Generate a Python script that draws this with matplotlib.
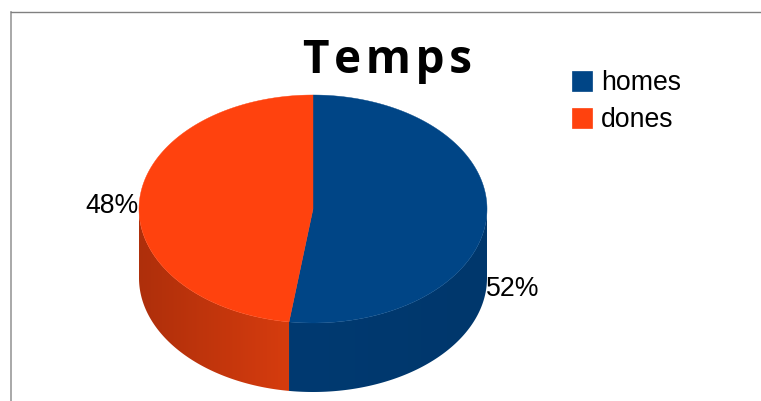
import numpy as np
import matplotlib
matplotlib.use("Agg")
from matplotlib import pyplot as plt
from matplotlib.patches import Patch, Polygon

labels = ["homes", "dones"]
values = [52.2, 47.8]
top_colours = ["#004586", "#ff420e"]
side_left = ["#003a71", "#ae2f0b"]
side_right = ["#00376c", "#d63c0e"]
title = "T\u200ae\u200am\u200ap\u200as"

# pie geometry in pixels
cx, cy = 313, 209
rx, ry = 174, 114
depth = 69


def rim(a, b, n=200):
    # a, b in degrees clockwise from 12 o'clock
    t = np.radians(np.linspace(a, b, n))
    return cx + rx * np.sin(t), cy - ry * np.cos(t)


fig = plt.figure(figsize=(7.61, 4.01), dpi=100)
ax = fig.add_axes([0, 0, 1, 1])
ax.axis("off")

# frame of the chart, cut by the image on the right and at the bottom
ax.plot([10.5, 10.5], [401, 11.5], color="#999999", lw=1.2)
ax.plot([10.5, 761], [11.5, 11.5], color="#808080", lw=1.0)

angles = np.cumsum([0] + values) / sum(values) * 360

# side wall, only the part facing the viewer (90 to 270 degrees)
for i in range(len(values)):
    a = max(angles[i], 90)
    b = min(angles[i + 1], 270)
    if a >= b:
        continue
    xs, ys = rim(a, b)
    wall = np.c_[np.r_[xs, xs[::-1]], np.r_[ys, ys[::-1] + depth]]
    patch = Polygon(wall, closed=True, fc="none", ec="none", transform=ax.transData)
    ax.add_patch(patch)
    c1 = np.array(matplotlib.colors.to_rgb(side_left[i]))
    c2 = np.array(matplotlib.colors.to_rgb(side_right[i]))
    ramp = np.linspace(c1, c2, 256)[np.newaxis, :, :]
    im = ax.imshow(ramp, extent=[xs.min(), xs.max(), 401, 0], aspect="auto",
                   interpolation="bilinear")
    im.set_clip_path(patch)

# top face
for i in range(len(values)):
    xs, ys = rim(angles[i], angles[i + 1])
    pts = np.c_[np.r_[cx, xs], np.r_[cy, ys]]
    ax.add_patch(Polygon(pts, closed=True, fc=top_colours[i], ec=top_colours[i], lw=0.3))

ax.text(387.5, 73, title, family=["Open Sans", "DejaVu Sans"], weight="bold",
        fontsize=33, ha="center", va="baseline", color="black")

label_font = "Liberation Sans"
ax.text(486, 296, "%.0f%%" % values[0], family=label_font, fontsize=19.2,
        ha="left", va="baseline", color="black")
ax.text(139, 213, "%.0f%%" % values[1], family=label_font, fontsize=19.2,
        ha="right", va="baseline", color="black")

handles = [Patch(fc=c, ec=c, lw=0.5) for c in top_colours]
ax.legend(handles, labels, loc="upper left", bbox_to_anchor=(571.5 / 761, 1 - 70.5 / 401),
          frameon=False, borderpad=0, borderaxespad=0,
          prop={"family": label_font, "size": 19.2},
          handlelength=0.75, handleheight=0.75, handletextpad=0.36, labelspacing=0.4)

ax.set_xlim(0, 761)
ax.set_ylim(401, 0)

fig.savefig("out.png", dpi=100)
